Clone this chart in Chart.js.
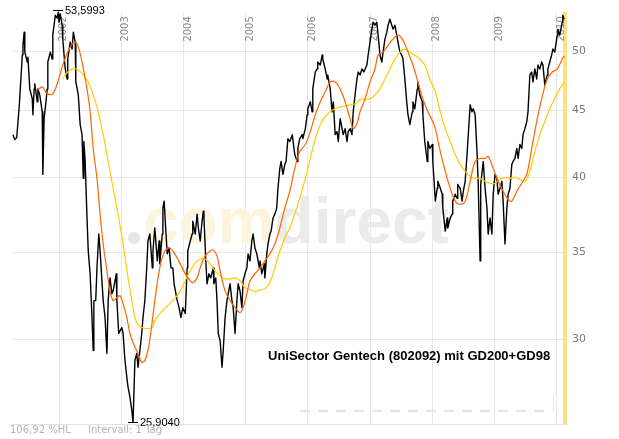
<!DOCTYPE html>
<html><head><meta charset="utf-8">
<script src="https://cdn.jsdelivr.net/npm/chart.js@4"></script>
<style>html,body{margin:0;padding:0;background:#fff}canvas{display:block}</style>
</head><body>
<canvas id="c" width="619" height="439"></canvas>
<script>
// ---- data ----
const yearTicks = [2002, 2003, 2004, 2005, 2006, 2007, 2008, 2009, 2010];
const yTicks = [30, 35, 40, 45, 50];
const chartTitle = 'UniSector Gentech (802092) mit GD200+GD98';
const footerLeft = '106,92 %HL';
const footerRight = 'Intervall: 1 Tag';
const highLabel = '53,5993';
const lowLabel = '25,9040';
const xRange = [2001.244, 2010.167];
const yRange = [25.83, 53.62];

// price [decimal year, value]
const priceSeries = [
[2001.26,43.12],[2001.29,42.74],[2001.32,42.9],[2001.36,45.30],[2001.41,49.65],[2001.42,50.53],[2001.44,51.70],[2001.45,49.91],[2001.49,49.04],[2001.50,49.47],[2001.53,46.76],[2001.57,45.94],[2001.58,44.67],[2001.60,46.76],[2001.61,47.18],[2001.65,45.70],[2001.66,46.76],[2001.69,46.27],[2001.73,44.90],[2001.74,40.19],[2001.76,44.36],[2001.79,45.70],[2001.81,46.76],[2001.82,49.04],[2001.86,49.91],[2001.89,49.30],[2001.90,51.43],[2001.94,53.27],[2001.97,53.0],[2001.99,53.5993],[2002.00,52.62],[2002.02,53.4],[2002.05,52.34],[2002.06,51.07],[2002.10,48.44],[2002.13,47.59],[2002.14,49.30],[2002.18,50.80],[2002.21,50.18],[2002.23,51.70],[2002.26,50.80],[2002.27,47.34],[2002.31,46.27],[2002.34,43.89],[2002.37,43.12],[2002.39,39.91],[2002.40,42.60],[2002.42,41.12],[2002.45,37.20],[2002.47,35.09],[2002.50,33.70],[2002.53,31.19],[2002.55,29.42],[2002.56,32.14],[2002.59,32.14],
[2002.61,34.06],[2002.64,36.16],[2002.66,35.09],[2002.71,32.14],[2002.74,31.19],[2002.77,29.27],[2002.79,32.14],[2002.82,33.46],[2002.85,32.53],[2002.87,32.70],[2002.92,33.70],[2002.93,32.14],[2002.96,30.32],[2003.01,30.64],[2003.03,30.32],[2003.06,28.91],[2003.09,28.06],[2003.11,27.57],[2003.14,27.09],[2003.17,26.47],[2003.19,25.904],[2003.22,28.91],[2003.25,29.27],[2003.27,28.56],[2003.30,29.42],[2003.33,30.32],[2003.35,31.19],[2003.38,32.14],[2003.41,34.06],[2003.43,35.72],[2003.46,36.16],[2003.50,34.06],[2003.51,35.09],[2003.54,36.55],[2003.58,34.48],[2003.61,35.72],[2003.62,34.30],[2003.66,36.16],[2003.67,37.86],[2003.69,38.33],[2003.72,36.16],[2003.74,34.91],[2003.77,35.28],[2003.80,34.06],[2003.83,34.06],[2003.85,33.11],[2003.88,32.53],[2003.90,32.14],[2003.93,31.74],[2003.96,31.19],[2003.99,31.74],
[2004.03,31.41],[2004.06,34.06],[2004.07,35.09],[2004.11,35.72],[2004.14,36.16],[2004.15,37.00],[2004.19,36.16],[2004.22,37.46],[2004.24,36.55],[2004.27,35.72],[2004.30,37.00],[2004.32,37.66],[2004.33,37.20],[2004.36,34.48],[2004.38,33.11],[2004.41,33.70],[2004.44,33.46],[2004.48,34.06],[2004.49,33.11],[2004.52,33.46],[2004.54,32.14],[2004.56,30.32],[2004.59,29.94],[2004.62,28.56],[2004.64,29.42],[2004.67,31.19],[2004.70,32.14],[2004.72,32.53],[2004.75,33.11],[2004.78,32.14],[2004.80,31.74],[2004.83,30.32],[2004.86,32.14],[2004.88,33.11],[2004.91,32.70],[2004.94,31.74],[2004.96,33.29],[2004.99,33.70],
[2005.02,34.06],[2005.04,34.91],[2005.07,34.48],[2005.10,35.72],[2005.12,36.16],[2005.15,35.28],[2005.18,34.91],[2005.22,34.06],[2005.23,34.48],[2005.26,33.70],[2005.30,34.30],[2005.31,33.46],[2005.34,34.91],[2005.36,35.53],[2005.39,36.16],[2005.41,36.35],[2005.44,37.20],[2005.47,37.46],[2005.50,37.86],[2005.52,39.21],[2005.55,40.62],[2005.57,41.12],[2005.60,40.19],[2005.63,40.91],[2005.65,41.12],[2005.68,42.82],[2005.71,42.60],[2005.75,43.12],[2005.76,43.12],[2005.79,41.63],[2005.83,41.12],[2005.84,42.08],[2005.87,42.82],[2005.91,43.12],[2005.92,42.82],[2005.96,43.58],[2005.99,44.67],
[2006.00,45.14],[2006.04,45.70],[2006.07,44.90],[2006.08,46.76],[2006.12,48.18],[2006.15,48.44],[2006.16,49.04],[2006.20,48.78],[2006.23,49.65],[2006.24,49.30],[2006.28,48.44],[2006.31,47.59],[2006.32,47.93],[2006.36,46.76],[2006.39,44.90],[2006.41,45.70],[2006.44,43.12],[2006.47,43.35],[2006.49,42.60],[2006.52,44.36],[2006.55,43.58],[2006.57,43.12],[2006.60,43.58],[2006.63,42.60],[2006.65,43.35],[2006.68,43.58],[2006.71,43.12],[2006.73,44.90],[2006.76,46.27],[2006.79,47.59],[2006.81,48.18],[2006.84,47.93],[2006.87,48.44],[2006.90,48.18],[2006.95,48.78],[2006.97,49.65],
[2007.00,50.80],[2007.03,51.98],[2007.05,52.62],[2007.08,52.34],[2007.11,52.62],[2007.13,51.43],[2007.16,49.65],[2007.19,49.04],[2007.21,49.91],[2007.24,51.07],[2007.27,51.70],[2007.29,52.34],[2007.32,52.90],[2007.35,52.34],[2007.37,51.98],[2007.40,52.34],[2007.43,51.43],[2007.45,50.80],[2007.48,49.91],[2007.51,49.65],[2007.53,49.30],[2007.56,47.59],[2007.59,45.70],[2007.61,44.67],[2007.64,43.89],[2007.68,44.90],[2007.69,45.70],[2007.72,45.14],[2007.76,46.76],[2007.77,47.34],[2007.80,46.27],[2007.84,45.70],[2007.85,44.67],[2007.88,42.60],[2007.92,41.12],[2007.93,42.60],[2007.96,42.08],
[2008.00,42.37],[2008.01,41.12],[2008.05,38.33],[2008.08,39.21],[2008.09,39.70],[2008.13,39.21],[2008.16,38.80],[2008.17,37.86],[2008.21,36.35],[2008.24,37.20],[2008.25,36.55],[2008.29,37.20],[2008.32,37.46],[2008.33,38.33],[2008.37,38.80],[2008.40,38.53],[2008.41,39.49],[2008.45,39.21],[2008.48,38.33],[2008.50,39.01],[2008.53,39.70],[2008.56,41.63],[2008.58,43.12],[2008.61,45.46],[2008.64,44.90],[2008.66,45.14],[2008.69,44.67],[2008.72,41.85],[2008.74,39.49],[2008.77,34.48],[2008.78,39.49],[2008.82,41.12],[2008.85,39.21],[2008.88,37.86],[2008.90,36.16],[2008.93,37.20],[2008.96,36.16],[2008.98,38.80],
[2009.01,40.19],[2009.04,39.91],[2009.06,38.80],[2009.09,39.21],[2009.12,39.70],[2009.14,38.33],[2009.17,35.53],[2009.20,37.86],[2009.22,38.80],[2009.25,39.21],[2009.28,40.91],[2009.30,41.12],[2009.33,41.34],[2009.36,42.08],[2009.38,41.34],[2009.41,42.37],[2009.44,42.08],[2009.46,43.12],[2009.49,43.58],[2009.52,44.12],[2009.54,44.90],[2009.57,47.93],[2009.60,48.18],[2009.62,47.34],[2009.65,48.44],[2009.68,47.59],[2009.70,48.78],[2009.73,48.44],[2009.76,49.04],[2009.78,48.78],[2009.81,47.09],[2009.85,47.93],[2009.86,48.44],[2009.89,49.04],[2009.92,49.65],[2009.94,50.18],[2009.97,49.91],[2010.01,51.43],[2010.02,51.98],[2010.05,51.43],[2010.09,52.62],[2010.10,53.27],[2010.12,52.9]
];

// GD98 (orange)
const gd98Series = [
[2001.66,46.68],[2001.73,46.93],[2001.81,46.35],[2001.90,46.35],[2001.98,47.34],[2002.06,48.78],[2002.14,49.91],[2002.21,50.62],[2002.26,50.80],[2002.31,50.35],[2002.37,49.04],[2002.45,46.76],[2002.50,44.90],[2002.55,42.08],[2002.61,39.91],[2002.66,37.46],[2002.71,35.53],[2002.77,33.88],[2002.82,32.70],[2002.87,32.14],[2002.93,32.30],[2002.98,32.42],[2003.03,31.97],[2003.09,31.19],[2003.14,30.32],[2003.21,29.68],[2003.27,29.27],[2003.33,28.81],[2003.38,28.91],[2003.43,29.42],[2003.48,30.48],[2003.54,32.14],[2003.62,34.06],[2003.70,35.09],[2003.78,35.28],[2003.86,34.91],[2003.95,34.30],[2004.03,33.70],[2004.11,33.29],[2004.15,33.17],[2004.22,33.46],[2004.27,34.06],[2004.35,34.79],[2004.43,35.09],[2004.48,35.16],[2004.54,34.79],[2004.59,33.88],[2004.67,32.70],[2004.75,32.14],[2004.83,31.74],[2004.91,31.46],[2004.96,31.74],[2005.02,32.53],[2005.07,33.29],[2005.15,33.70],[2005.23,34.06],[2005.31,34.48],[2005.39,34.91],[2005.47,35.53],[2005.55,36.55],[2005.63,37.86],[2005.71,39.01],[2005.79,40.62],[2005.87,41.85],[2005.96,42.37],[2006.04,43.35],[2006.12,44.67],[2006.20,45.70],[2006.28,46.52],[2006.36,47.34],[2006.44,47.34],[2006.52,46.76],[2006.60,45.70],[2006.68,44.36],[2006.73,43.58],[2006.79,43.97],[2006.84,44.90],[2006.92,45.94],[2007.00,47.34],[2007.08,48.44],[2007.13,49.65],[2007.21,49.91],[2007.29,50.53],[2007.37,51.07],[2007.45,51.43],[2007.53,50.98],[2007.61,49.91],[2007.69,48.78],[2007.77,47.34],[2007.85,45.94],[2007.93,44.90],[2008.01,44.12],[2008.05,43.58],[2008.13,41.85],[2008.21,40.40],[2008.29,39.21],[2008.37,38.33],[2008.45,38.12],[2008.53,38.33],[2008.61,39.70],[2008.69,41.12],[2008.77,41.34],[2008.85,41.34],[2008.90,41.49],[2008.98,40.62],[2009.06,39.70],[2009.14,39.01],[2009.22,38.45],[2009.28,38.33],[2009.36,39.01],[2009.44,39.56],[2009.52,40.19],[2009.60,42.08],[2009.68,44.12],[2009.76,45.94],[2009.85,47.59],[2009.93,48.18],[2010.01,48.44],[2010.09,49.30],[2010.12,49.56]
];

// GD200 (yellow)
const gd200Series = [
[2002.06,47.59],[2002.14,48.18],[2002.23,48.44],[2002.31,48.35],[2002.39,47.93],[2002.47,47.34],[2002.55,46.27],[2002.63,44.90],[2002.71,43.12],[2002.79,41.12],[2002.87,39.21],[2002.95,37.46],[2003.03,35.53],[2003.11,33.46],[2003.19,31.74],[2003.25,30.91],[2003.33,30.64],[2003.41,30.59],[2003.50,30.64],[2003.54,31.02],[2003.62,31.41],[2003.70,31.69],[2003.78,31.97],[2003.86,32.25],[2003.95,32.70],[2004.03,33.29],[2004.11,33.88],[2004.19,34.36],[2004.27,34.60],[2004.35,34.60],[2004.43,34.30],[2004.51,33.88],[2004.59,33.58],[2004.67,33.40],[2004.75,33.40],[2004.83,33.46],[2004.91,33.29],[2004.99,32.88],[2005.07,32.76],[2005.15,32.65],[2005.23,32.76],[2005.31,32.82],[2005.39,33.17],[2005.47,34.06],[2005.55,35.09],[2005.63,35.91],[2005.71,36.55],[2005.79,37.46],[2005.87,38.53],[2005.96,39.91],[2006.04,41.34],[2006.12,42.82],[2006.20,43.89],[2006.28,44.51],[2006.36,44.90],[2006.44,45.14],[2006.52,45.30],[2006.60,45.38],[2006.68,45.46],[2006.76,45.54],[2006.84,45.86],[2006.92,45.94],[2007.00,45.94],[2007.08,46.27],[2007.16,46.76],[2007.24,47.59],[2007.32,48.44],[2007.40,49.30],[2007.48,49.91],[2007.56,50.18],[2007.64,49.91],[2007.72,49.65],[2007.80,49.30],[2007.88,48.78],[2007.96,47.59],[2008.05,46.52],[2008.13,44.90],[2008.21,43.58],[2008.29,42.60],[2008.37,41.63],[2008.45,40.91],[2008.53,40.40],[2008.61,40.05],[2008.69,39.91],[2008.77,39.91],[2008.85,39.70],[2008.93,39.56],[2009.01,39.56],[2009.09,39.84],[2009.17,39.98],[2009.25,39.91],[2009.33,39.98],[2009.41,39.84],[2009.49,39.70],[2009.57,40.40],[2009.65,41.85],[2009.73,43.12],[2009.81,44.12],[2009.89,45.14],[2009.97,45.94],[2010.05,46.76],[2010.12,47.3]
];

const toXY = s => s.map(([x, y]) => ({x, y}));

// ---- decorations ----
const backdrop = {
  id: 'backdrop',
  beforeDatasetsDraw(chart) {
    const {ctx, chartArea: a, scales: {x}} = chart;
    ctx.save();
    // watermark
    ctx.fillStyle = '#e6e6e6';
    ctx.beginPath(); ctx.arc(134, 238, 6, 0, Math.PI * 2); ctx.fill();
    ctx.font = 'bold 64px "Liberation Sans", Arial, sans-serif';
    ctx.textBaseline = 'alphabetic';
    ctx.textAlign = 'left';
    ctx.fillStyle = '#fdf4dd';
    ctx.fillText('com', 143, 243);
    const w = ctx.measureText('com').width;
    ctx.fillStyle = '#ebebeb';
    ctx.fillText('direct', 143 + w, 243);
    // faint dashed strip near bottom
    ctx.strokeStyle = '#e6e6e6';
    ctx.lineWidth = 2.5;
    ctx.setLineDash([10, 8]);
    ctx.beginPath(); ctx.moveTo(300, 411); ctx.lineTo(552, 411); ctx.stroke();
    ctx.setLineDash([]);
    ctx.lineWidth = 1;
    ctx.beginPath(); ctx.moveTo(553.5, 395); ctx.lineTo(553.5, 411); ctx.stroke();
    // current-day bar
    ctx.fillStyle = '#fddf86';
    ctx.fillRect(a.right - 4, a.top, 4, a.bottom - a.top);
    // year labels, rotated, inside plot at top (under the data)
    ctx.font = '10px "DejaVu Sans", Verdana, sans-serif';
    ctx.fillStyle = '#8a8a8a';
    ctx.textAlign = 'left';
    ctx.textBaseline = 'middle';
    yearTicks.forEach(yr => {
      const px = x.getPixelForValue(yr) + 4.5;
      ctx.save();
      ctx.translate(px, a.top + 30);
      ctx.rotate(-Math.PI / 2);
      ctx.fillText(String(yr), 0, 0);
      ctx.restore();
    });
    ctx.restore();
  }
};

const overlay = {
  id: 'overlay',
  afterDraw(chart) {
    const {ctx, scales: {x, y}} = chart;
    ctx.save();
    // high / low markers
    let hi = priceSeries[0], lo = priceSeries[0];
    priceSeries.forEach(p => { if (p[1] > hi[1]) hi = p; if (p[1] < lo[1]) lo = p; });
    ctx.strokeStyle = '#000';
    ctx.lineWidth = 1;
    ctx.fillStyle = '#000';
    ctx.font = '11px "Liberation Sans", Arial, sans-serif';
    ctx.textAlign = 'left';
    ctx.textBaseline = 'middle';
    [[hi, highLabel, -2], [lo, lowLabel, 0]].forEach(([p, txt, dy]) => {
      const px = Math.round(x.getPixelForValue(p[0]));
      const py = Math.round(y.getPixelForValue(p[1])) + dy + 0.5;
      ctx.beginPath(); ctx.moveTo(px - 5, py); ctx.lineTo(px + 5, py); ctx.stroke();
      ctx.fillText(txt, px + 7, py);
    });
    // title
    ctx.font = 'bold 13px "Liberation Sans", Arial, sans-serif';
    ctx.fillStyle = '#000';
    ctx.fillText(chartTitle, 268, 356);
    // footer
    ctx.font = '10px "DejaVu Sans", Verdana, sans-serif';
    ctx.fillStyle = '#b4b4b4';
    ctx.fillText(footerLeft, 10, 430);
    ctx.fillText(footerRight, 88, 430);
    ctx.restore();
  }
};

new Chart(document.getElementById('c'), {
  type: 'line',
  data: {
    datasets: [
      {label: 'GD98', data: toXY(gd98Series), borderColor: '#ff6600', borderWidth: 1.2, pointRadius: 0, tension: 0.35, order: 1},
      {label: 'GD200', data: toXY(gd200Series), borderColor: '#ffcc00', borderWidth: 1.2, pointRadius: 0, tension: 0.35, order: 2},
      {label: 'Kurs', data: toXY(priceSeries), borderColor: '#000000', borderWidth: 1.4, pointRadius: 0, tension: 0, order: 3}
    ]
  },
  options: {
    responsive: false,
    animation: false,
    devicePixelRatio: 1,
    layout: {padding: {left: 12, top: 10, right: 0, bottom: 15}},
    plugins: {legend: {display: false}, tooltip: {enabled: false}, title: {display: false}},
    elements: {line: {borderJoinStyle: 'round'}},
    scales: {
      x: {
        type: 'linear', min: xRange[0], max: xRange[1],
        afterBuildTicks: s => { s.ticks = yearTicks.map(v => ({value: v})); },
        afterFit: s => { s.height = 0; },
        ticks: {display: false},
        grid: {color: '#e8e8e8', drawTicks: false},
        border: {display: true, color: '#e2e2e2'}
      },
      y: {
        type: 'logarithmic', position: 'right', min: yRange[0], max: yRange[1],
        afterBuildTicks: s => { s.ticks = yTicks.map(v => ({value: v})); },
        afterFit: s => { s.width = 52; },
        ticks: {color: '#7a7a7a', padding: 5, font: {family: '"DejaVu Sans", Verdana, sans-serif', size: 11}, callback: v => String(v)},
        grid: {color: '#e8e8e8', drawTicks: false},
        border: {display: false}
      }
    }
  },
  plugins: [backdrop, overlay]
});
</script>
</body></html>
